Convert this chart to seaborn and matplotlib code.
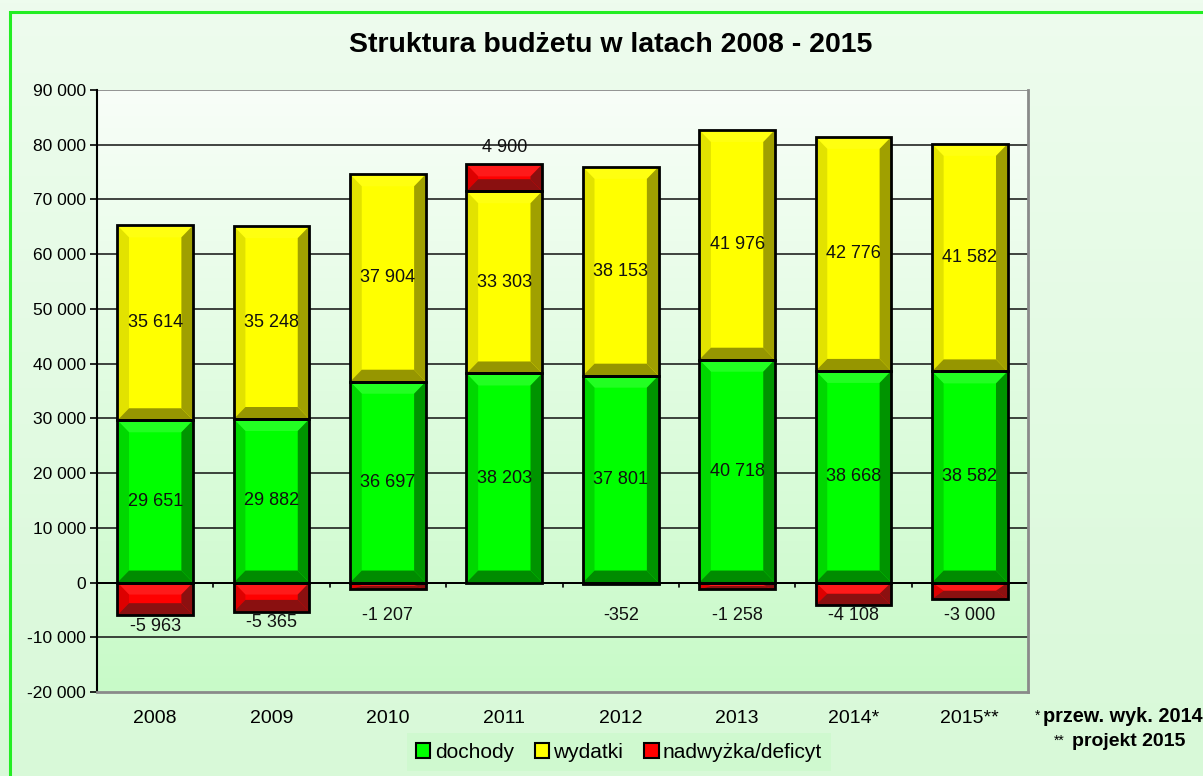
import numpy as np
import pandas as pd
import matplotlib
matplotlib.use("Agg")
import matplotlib.pyplot as plt
import seaborn as sns
from matplotlib.patches import Polygon, Rectangle, Patch
from matplotlib.ticker import FuncFormatter

# ---------------- data ----------------
years = ['2008', '2009', '2010', '2011', '2012', '2013', '2014*', '2015**']
dochody = [29651, 29882, 36697, 38203, 37801, 40718, 38668, 38582]
wydatki = [35614, 35248, 37904, 33303, 38153, 41976, 42776, 41582]
wynik = [-5963, -5365, -1207, 4900, -352, -1258, -4108, -3000]
series_names = ['dochody', 'wydatki', 'nadwyżka/deficyt']
title = 'Struktura budżetu w latach 2008 - 2015'
yticks = [-20000, -10000, 0, 10000, 20000, 30000, 40000, 50000, 60000, 70000, 80000, 90000]

# ---------------- style ----------------
sns.set_theme(style='white')
plt.rcParams['font.family'] = ['Liberation Sans', 'DejaVu Sans']
plt.rcParams['text.color'] = 'black'
plt.rcParams['xtick.color'] = 'black'
plt.rcParams['ytick.color'] = 'black'
plt.rcParams['axes.labelcolor'] = 'black'

colors = {
    'dochody': dict(face='#00ff00', top='#22ff22', left='#00d800', right='#009400', bottom='#008c00'),
    'wydatki': dict(face='#ffff00', top='#ffff10', left='#e2e200', right='#a0a000', bottom='#969600'),
    'nadwyżka/deficyt': dict(face='#ff0000', top='#ff1a1a', left='#dd0000', right='#8c1010', bottom='#8a1010'),
}

W, H = 1203, 776
fig = plt.figure(figsize=(W / 100, H / 100), dpi=100)

# figure background gradient
bg = fig.add_axes([0, 0, 1, 1], zorder=-10)
grad = np.linspace(0, 1, 256).reshape(-1, 1)
c_top = np.array([0xee, 0xfc, 0xee]) / 255
c_bot = np.array([0xd8, 0xf9, 0xd8]) / 255
img = c_top[None, None, :] * (1 - grad[..., None]) + c_bot[None, None, :] * grad[..., None]
bg.imshow(img, aspect='auto', extent=[0, 1, 0, 1], origin='upper')
bg.set_axis_off()
bg.add_patch(Rectangle((10 / W, -0.02), 1.2, 1 - 12 / H + 0.02, fill=False,
                       edgecolor='#22ee22', linewidth=2.2, transform=bg.transAxes))
bg.set_xlim(0, 1); bg.set_ylim(0, 1)

ax = fig.add_axes([97 / W, 1 - 692 / H, (1028 - 97) / W, (692 - 90) / H])

# plot-area gradient
pa_top = np.array([0xf8, 0xfe, 0xf8]) / 255
pa_bot = np.array([0xc8, 0xfa, 0xc8]) / 255
img2 = pa_top[None, None, :] * (1 - grad[..., None]) + pa_bot[None, None, :] * grad[..., None]
ax.imshow(img2, aspect='auto', extent=[0, 1, 0, 1], origin='upper',
          transform=ax.transAxes, zorder=0)

d = np.array(dochody, dtype=float)
w = np.array(wydatki, dtype=float)
r = np.array(wynik, dtype=float)
top_yellow = d + w
red_heights = np.where(r > 0, top_yellow + r, r)

bar_w = 0.65
common = dict(ax=ax, width=bar_w, edgecolor='black', linewidth=0, saturation=1, zorder=3)

def draw_layer(vals, color):
    n0 = len(ax.patches)
    sns.barplot(x=years, y=vals, color=color, **common)
    return ax.patches[n0:]

p_red = draw_layer(red_heights, colors['nadwyżka/deficyt']['face'])
p_yel = draw_layer(top_yellow, colors['wydatki']['face'])
p_grn = draw_layer(d, colors['dochody']['face'])

ylo, yhi = -20000, 90000
ax.set_ylim(ylo, yhi)
ax.set_xlim(-0.5, len(years) - 0.5)
px_per_y = (692 - 90) / (yhi - ylo)
bev_y = 12 / px_per_y
bev_x = 0.1

def bevel(xl, xr, y0, y1, c):
    lo, hi = min(y0, y1), max(y0, y1)
    h = hi - lo
    by = min(bev_y, h / 2)
    bx = min(bev_x, (xr - xl) / 2)
    ax.add_patch(Polygon([(xl, lo), (xr, lo), (xr, hi), (xl, hi)], closed=True,
                         facecolor=c['face'], edgecolor='none', zorder=4))
    polys = [
        ([(xl, hi), (xr, hi), (xr - bx, hi - by), (xl + bx, hi - by)], c['top']),
        ([(xl, lo), (xl, hi), (xl + bx, hi - by), (xl + bx, lo + by)], c['left']),
        ([(xr, lo), (xr, hi), (xr - bx, hi - by), (xr - bx, lo + by)], c['right']),
        ([(xl, lo), (xr, lo), (xr - bx, lo + by), (xl + bx, lo + by)], c['bottom']),
    ]
    for pts, col in polys:
        ax.add_patch(Polygon(pts, closed=True, facecolor=col, edgecolor='none', zorder=5))
    ax.add_patch(Rectangle((xl, lo), xr - xl, h, fill=False, edgecolor='black',
                           linewidth=2.0, zorder=6))

def fmt(v):
    s = f"{abs(int(round(v))):,}".replace(',', ' ')
    return ('-' if v < 0 else '') + s

lab_kw = dict(ha='center', va='center', fontsize=13, color='#111111', zorder=8)
for i in range(len(years)):
    pg = p_grn[i]
    xl = pg.get_x(); xr = xl + pg.get_width()
    bevel(xl, xr, 0, d[i], colors['dochody'])
    bevel(xl, xr, d[i], top_yellow[i], colors['wydatki'])
    if r[i] > 0:
        bevel(xl, xr, top_yellow[i], top_yellow[i] + r[i], colors['nadwyżka/deficyt'])
        ax.text((xl + xr) / 2, top_yellow[i] + r[i] + 1600, fmt(r[i]),
                ha='center', va='bottom', fontsize=13, color='#111111', zorder=8)
    else:
        bevel(xl, xr, 0, r[i], colors['nadwyżka/deficyt'])
        ax.text((xl + xr) / 2, min(r[i], -4000) - 2000, fmt(r[i]), **lab_kw)
    ax.text((xl + xr) / 2, d[i] / 2, fmt(d[i]), **lab_kw)
    ax.text((xl + xr) / 2, d[i] + w[i] / 2, fmt(w[i]), **lab_kw)

for p in p_red + p_yel + p_grn:
    p.set_visible(False)

for yv in yticks:
    if yv == ylo:
        continue
    ax.axhline(yv, color='#111111' if yv != yhi else '#777777', linewidth=1.1, zorder=1)
ax.axhline(0, color='black', linewidth=1.4, zorder=2)
for k in range(1, len(years)):
    ax.plot([k - 0.5, k - 0.5], [0, -900], color='black', linewidth=1.2, zorder=2)

ax.set_yticks(yticks)
ax.yaxis.set_major_formatter(FuncFormatter(lambda v, p: fmt(v)))
ax.tick_params(axis='y', labelsize=12.5, length=5, width=1.2, pad=3, left=True, colors='black')
ax.tick_params(axis='x', labelsize=14, length=0, pad=13, colors='black')
ax.set_xlabel(''); ax.set_ylabel('')

for side in ['top', 'right', 'bottom']:
    ax.spines[side].set_color('#8a8a8a')
    ax.spines[side].set_linewidth(2)
ax.spines['top'].set_visible(False)
ax.spines['left'].set_color('black')
ax.spines['left'].set_linewidth(1.5)
ax.set_facecolor('none')

fig.text(611 / W, 1 - 45 / H, title, ha='center', va='center', fontsize=20.5,
         fontweight='bold', color='black')

handles = [Patch(facecolor=colors[n]['face'], edgecolor='black', linewidth=1.5, label=n)
           for n in series_names]
leg = fig.legend(handles=handles, loc='center', bbox_to_anchor=(619 / W, 1 - 752 / H),
                 ncol=3, frameon=True, fontsize=15, handlelength=0.7, handleheight=0.7,
                 handletextpad=0.2, columnspacing=1.0, borderpad=0.45, fancybox=False)
leg.get_frame().set_facecolor('#cdf9cd')
leg.get_frame().set_edgecolor('none')
for t in leg.get_texts():
    t.set_color('black')

fig.text(1035 / W, 1 - 716 / H, '*', ha='left', va='center', fontsize=10)
fig.text(1043 / W, 1 - 717 / H, 'przew. wyk. 2014', ha='left', va='center',
         fontsize=14.3, fontweight='bold')
fig.text(1054 / W, 1 - 741 / H, '**', ha='left', va='center', fontsize=10)
fig.text(1072 / W, 1 - 742 / H, 'projekt 2015', ha='left', va='center',
         fontsize=14, fontweight='bold')

fig.savefig('out.png', dpi=100)
